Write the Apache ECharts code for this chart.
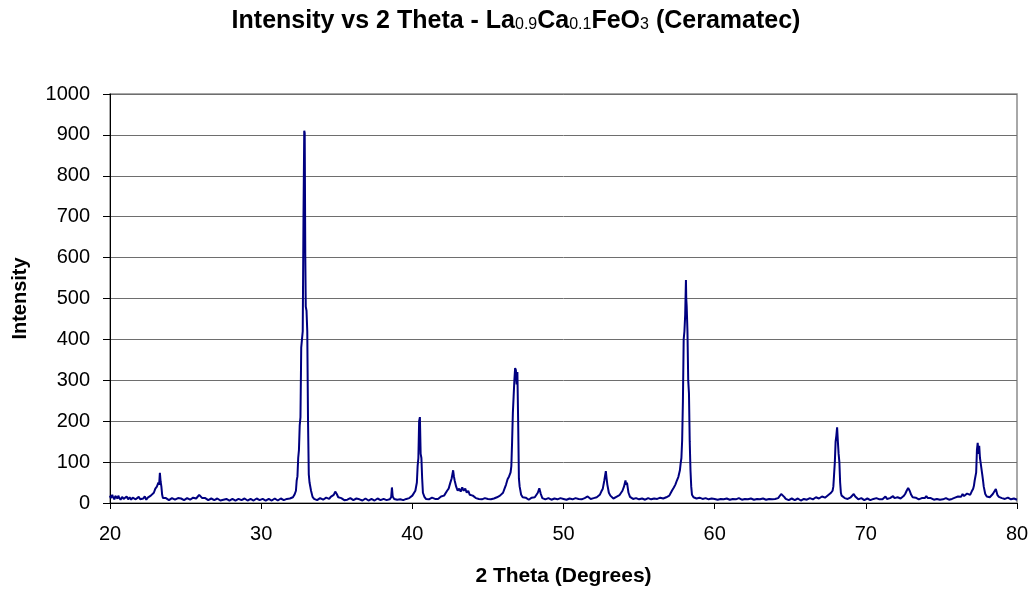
<!DOCTYPE html>
<html>
<head>
<meta charset="utf-8">
<script src="https://cdn.jsdelivr.net/npm/echarts@6/dist/echarts.min.js"></script>
<style>
html,body{margin:0;padding:0;background:#fff;}
#chart{width:1032px;height:596px;}
</style>
</head>
<body>
<div id="chart"></div>
<script>
// 2-theta (degrees) / intensity pairs, split by range
const scan20to30 = [
[20.0,18],[20.05,12],[20.1,10],[20.15,20],[20.2,14],[20.3,9],[20.35,17],[20.4,16],[20.5,11],[20.55,18],[20.6,13],[20.7,8],[20.8,15],[20.9,10],
[21.0,12],[21.1,16],[21.2,9],[21.3,14],[21.4,8],[21.5,13],[21.6,12],[21.7,9],[21.8,10],[21.9,15],[22.0,9],[22.1,13],[22.2,11],[22.3,16],[22.4,8],
[22.5,13],[22.6,12],[22.7,18],[22.8,22],[22.9,25],[23.0,35],[23.1,40],[23.2,50],[23.25,45],[23.3,74],
[23.35,52],[23.4,40],[23.45,20],[23.5,12],[23.6,9],[23.7,12],[23.8,10],[23.9,7],[24.0,8],[24.1,12],[24.2,11],[24.3,8],[24.4,9],[24.5,12],
[24.6,8],[24.7,11],[24.8,10],[24.9,7],[25.0,9],[25.1,12],[25.2,11],[25.3,8],[25.4,8],[25.5,13],[25.6,10],[25.7,11],[25.8,14],[25.9,20],[26.0,16],[26.1,12],
[26.2,9],[26.3,12],[26.4,10],[26.5,7],[26.6,8],[26.7,11],[26.8,11],[26.9,7],[27.0,9],[27.1,11],[27.2,8],[27.3,6],[27.4,10],[27.5,8],[27.6,7],[27.7,10],[27.8,9],[27.9,6],[28.0,8],
[28.1,10],[28.2,10],[28.3,6],[28.4,7],[28.5,10],[28.6,9],[28.7,7],[28.8,8],[28.9,11],[29.0,10],[29.1,6],[29.2,7],[29.3,10],[29.4,9],[29.5,6],[29.6,8],[29.7,11],[29.8,10],[29.9,7],[30.0,8]
];
const scan30to40 = [
[30.1,10],[30.2,9],[30.3,6],[30.4,7],[30.5,10],[30.6,10],[30.7,6],[30.8,8],[30.9,11],[31.0,9],[31.1,6],[31.2,7],[31.3,11],[31.4,10],[31.5,7],[31.6,8],[31.7,10],[31.8,9],[31.9,11],[32.0,12],
[32.1,14],[32.2,20],[32.3,30],[32.35,55],[32.4,65],[32.45,110],[32.5,130],[32.55,190],[32.6,210],[32.65,380],
[32.7,400],[32.75,420],[32.8,700],[32.85,910],[32.88,905],[32.92,600],[32.95,480],[33.0,470],[33.05,420],[33.1,200],
[33.15,70],[33.2,50],[33.3,30],[33.4,15],[33.5,10],[33.6,12],[33.7,7],[33.8,8],[33.9,12],[34.0,10],[34.1,8],[34.2,9],[34.3,13],[34.4,12],
[34.5,10],[34.6,15],[34.7,14],[34.8,20],[34.9,28],[35.0,22],[35.1,14],[35.2,10],[35.3,12],[35.4,8],[35.5,7],[35.6,11],[35.7,8],[35.8,9],[35.9,12],[36.0,8],
[36.1,7],[36.2,10],[36.3,11],[36.4,7],[36.5,9],[36.6,9],[36.7,6],[36.8,8],[36.9,11],[37.0,10],[37.1,6],[37.2,7],[37.3,10],[37.4,9],[37.5,6],[37.6,8],[37.7,11],[37.8,10],[37.9,7],[38.0,7],
[38.1,10],[38.2,9],[38.3,7],[38.4,11],[38.5,9],[38.6,14],[38.65,38],[38.7,16],[38.8,10],[38.9,7],[39.0,8],[39.1,11],[39.2,9],[39.3,6],[39.4,7],[39.5,10],[39.6,10],[39.7,8],
[39.8,12],[39.9,14],[40.0,18],[40.1,22],[40.2,30],[40.3,50],[40.35,90],[40.4,110],[40.45,200],[40.5,210],[40.55,120],
[40.6,110],[40.65,60],[40.7,25],[40.8,15],[40.9,10]
];
const scan40to50 = [
[41.0,12],[41.1,9],[41.2,9],[41.3,13],[41.4,11],[41.5,10],[41.6,13],[41.7,10],[41.8,12],[41.9,16],[42.0,15],[42.1,18],[42.2,22],[42.3,30],[42.4,35],[42.5,48],[42.6,60],
[42.7,80],[42.75,65],[42.8,55],[42.9,40],[43.0,30],[43.1,35],[43.2,28],[43.3,38],[43.4,30],[43.5,35],
[43.6,25],[43.7,30],[43.8,20],[43.9,24],[44.0,18],[44.1,14],[44.2,12],[44.3,15],[44.4,10],[44.5,12],[44.6,9],[44.7,8],[44.8,12],[44.9,10],[45.0,10],[45.1,13],[45.2,9],
[45.3,12],[45.4,11],[45.5,15],[45.6,14],[45.7,17],[45.8,18],[45.9,22],[46.0,25],[46.1,35],[46.2,45],[46.3,58],[46.4,65],[46.5,75],[46.55,90],
[46.6,150],[46.65,220],[46.7,260],[46.75,300],[46.8,330],[46.85,325],[46.9,290],[46.95,320],[47.0,200],[47.05,60],
[47.1,40],[47.2,20],[47.3,14],[47.4,10],[47.5,13],[47.6,12],[47.7,8],[47.8,10],[47.9,13],[48.0,12],[48.1,14],[48.2,16],[48.3,25],[48.4,36],
[48.5,22],[48.6,12],[48.7,15],[48.8,9],[48.9,13],[49.0,12],[49.1,8],[49.2,8],[49.3,12],[49.4,11],[49.5,8],[49.6,9],[49.7,13],[49.8,12],[49.9,8],[50.0,10]
];
const scan50to60 = [
[50.1,12],[50.2,8],[50.3,7],[50.4,11],[50.5,10],[50.6,9],[50.7,7],[50.8,12],[50.9,9],[51.0,10],[51.1,13],[51.2,9],[51.3,8],[51.4,12],[51.5,11],[51.6,16],[51.7,12],[51.8,10],[51.9,13],
[52.0,12],[52.1,11],[52.2,14],[52.3,17],[52.4,20],[52.5,28],[52.6,35],[52.7,55],[52.8,78],[52.85,60],[52.9,45],[53.0,25],
[53.1,18],[53.2,14],[53.3,11],[53.4,12],[53.5,15],[53.6,16],[53.7,19],[53.8,22],[53.9,30],[54.0,40],[54.1,55],[54.15,45],[54.2,50],
[54.3,25],[54.4,15],[54.5,12],[54.6,10],[54.7,8],[54.8,12],[54.9,10],[55.0,9],[55.1,7],[55.2,11],[55.3,10],[55.4,8],[55.5,7],[55.6,12],[55.7,10],[55.8,9],[55.9,13],[56.0,11],
[56.1,9],[56.2,10],[56.3,12],[56.4,13],[56.5,10],[56.6,11],[56.7,15],[56.8,14],[56.9,16],[57.0,18],[57.1,25],[57.2,32],[57.3,38],[57.4,45],[57.5,55],
[57.6,64],[57.7,80],[57.75,97],[57.8,110],[57.85,154],[57.9,250],[57.95,400],[58.0,420],[58.05,460],[58.1,545],
[58.12,500],[58.15,480],[58.2,420],[58.25,300],[58.3,268],[58.35,150],[58.4,80],[58.45,40],[58.5,20],[58.6,14],
[58.7,12],[58.8,11],[58.9,9],[59.0,13],[59.1,10],[59.2,10],[59.3,7],[59.4,12],[59.5,9],[59.6,9],[59.7,12],[59.8,11],[59.9,8],[60.0,10]
];
const scan60to70 = [
[60.1,7],[60.2,8],[60.3,11],[60.4,10],[60.5,7],[60.6,9],[60.7,12],[60.8,11],[60.9,7],[61.0,8],[61.1,11],[61.2,10],[61.3,7],[61.4,9],[61.5,12],[61.6,12],[61.7,9],[61.8,8],[61.9,11],[62.0,10],
[62.1,7],[62.2,9],[62.3,12],[62.4,11],[62.5,8],[62.6,8],[62.7,11],[62.8,10],[62.9,7],[63.0,9],[63.1,12],[63.2,11],[63.3,8],[63.4,8],[63.5,11],[63.6,10],[63.7,7],[63.8,9],[63.9,12],[64.0,10],
[64.1,9],[64.2,12],[64.3,16],[64.4,22],[64.5,25],[64.6,15],[64.7,10],[64.8,9],[64.9,7],[65.0,8],[65.1,11],[65.2,10],[65.3,7],[65.4,8],[65.5,11],
[65.6,9],[65.7,6],[65.8,7],[65.9,10],[66.0,10],[66.1,8],[66.2,9],[66.3,12],[66.4,11],[66.5,9],[66.6,10],[66.7,14],[66.8,13],[66.9,11],[67.0,12],[67.1,16],[67.2,15],[67.3,13],[67.4,16],[67.5,19],
[67.6,20],[67.7,25],[67.8,30],[67.85,40],[67.9,70],[67.95,100],[68.0,150],[68.05,165],[68.1,185],[68.15,150],
[68.2,120],[68.25,100],[68.3,50],[68.35,25],[68.4,18],[68.5,15],[68.6,12],[68.7,14],[68.8,10],[68.9,12],[69.0,14],[69.1,18],
[69.2,22],[69.3,16],[69.4,12],[69.5,9],[69.6,10],[69.7,12],[69.8,9],[69.9,7],[70.0,10]
];
const scan70to80 = [
[70.1,11],[70.2,8],[70.3,7],[70.4,11],[70.5,10],[70.6,9],[70.7,12],[70.8,8],[70.9,9],[71.0,10],[71.1,9],[71.2,12],[71.3,16],[71.4,10],[71.5,9],[71.6,12],[71.7,11],[71.8,17],
[71.9,12],[72.0,11],[72.1,14],[72.2,13],[72.3,11],[72.4,15],[72.5,17],[72.6,22],[72.7,30],[72.8,37],[72.9,30],[73.0,20],[73.1,14],[73.2,12],
[73.3,13],[73.4,10],[73.5,9],[73.6,11],[73.7,12],[73.8,14],[73.9,12],[74.0,17],[74.1,12],[74.2,10],[74.3,12],[74.4,9],[74.5,8],[74.6,11],[74.7,10],[74.8,10],[74.9,8],[75.0,12],
[75.1,9],[75.2,10],[75.3,12],[75.4,9],[75.5,8],[75.6,11],[75.7,10],[75.8,10],[75.9,13],[76.0,12],[76.1,16],[76.2,20],[76.3,15],[76.4,22],[76.5,17],[76.6,18],[76.7,23],[76.8,25],
[76.9,20],[77.0,28],[77.1,35],[77.15,42],[77.2,55],[77.3,75],[77.35,130],[77.4,147],[77.45,120],[77.5,140],
[77.55,110],[77.6,97],[77.7,70],[77.75,56],[77.8,40],[77.9,22],[78.0,16],[78.1,18],[78.2,14],[78.3,18],[78.4,22],
[78.5,28],[78.6,34],[78.7,20],[78.8,15],[78.9,17],[79.0,12],[79.1,14],[79.2,10],[79.3,11],[79.4,13],[79.5,10],[79.6,9],[79.7,12],[79.8,11],[79.9,8],[80.0,8]
];

const xTicks = {min: 20, max: 80, interval: 10};
const yTicks = {min: 0, max: 1000, interval: 100};

const scan = [].concat(scan20to30, scan30to40, scan40to50, scan50to60, scan60to70, scan70to80);

const chart = echarts.init(document.getElementById('chart'), null, {renderer: 'canvas'});
const F = '"Liberation Sans", Arial, sans-serif';
chart.setOption({
  animation: false,
  backgroundColor: '#ffffff',
  title: {
    text: '{b|Intensity vs 2 Theta - La}{s|0.9}{b|Ca}{s|0.1}{b|FeO}{s|3}{b| (Ceramatec)}',
    left: 'center',
    top: 4,
    textStyle: {
      rich: {
        b: {fontFamily: F, fontWeight: 'bold', fontSize: 25, color: '#000'},
        s: {fontFamily: F, fontWeight: 'normal', fontSize: 16, color: '#000', padding: [6, 0, 0, 0]}
      }
    }
  },
  grid: {
    left: 110, right: 15, top: 94, bottom: 93,
    show: true, borderColor: '#8c8c8c', borderWidth: 1.5, backgroundColor: '#fff'
  },
  xAxis: {
    type: 'value',
    min: xTicks.min, max: xTicks.max, interval: xTicks.interval,
    name: '2 Theta (Degrees)',
    nameLocation: 'middle',
    nameGap: 63,
    nameTextStyle: {fontFamily: F, fontWeight: 'bold', fontSize: 21, color: '#000'},
    axisLine: {show: true, onZero: false, lineStyle: {color: '#000', width: 1}},
    axisTick: {show: true, length: 6, inside: false, lineStyle: {color: '#000'}},
    axisLabel: {fontFamily: F, fontSize: 20, color: '#000', margin: 21, formatter: v => String(v)},
    splitLine: {show: false}
  },
  yAxis: {
    type: 'value',
    min: yTicks.min, max: yTicks.max, interval: yTicks.interval,
    name: 'Intensity',
    nameLocation: 'middle',
    nameGap: 80,
    nameRotate: 90,
    nameTextStyle: {fontFamily: F, fontWeight: 'bold', fontSize: 20, color: '#000'},
    axisLine: {show: true, lineStyle: {color: '#000', width: 1}},
    axisTick: {show: true, length: 7, inside: false, lineStyle: {color: '#000'}},
    axisLabel: {fontFamily: F, fontSize: 20, color: '#000', margin: 20, formatter: v => String(v)},
    splitLine: {show: true, lineStyle: {color: '#6e6e6e', width: 1}}
  },
  series: [{
    type: 'line',
    data: scan,
    showSymbol: false,
    symbol: 'none',
    lineStyle: {color: '#000080', width: 2},
    z: 3
  }]
});
</script>
</body>
</html>
